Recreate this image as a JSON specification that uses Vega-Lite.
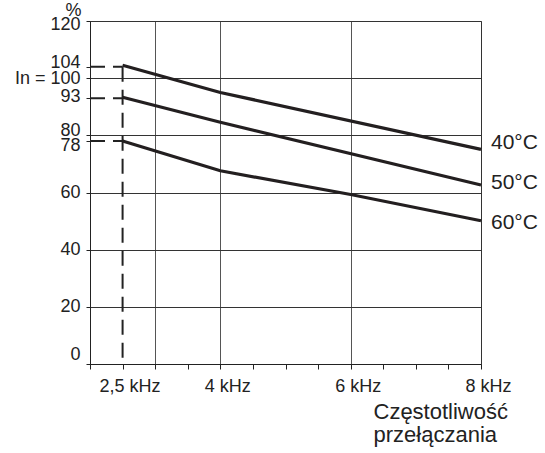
{
  "$schema": "https://vega.github.io/schema/vega-lite/v6.json",
  "width": 391,
  "height": 343,
  "autosize": {"type": "none"},
  "padding": {"left": 90, "top": 21, "right": 64, "bottom": 89},
  "background": "white",
  "view": {"stroke": "#333", "strokeWidth": 1},
  "config": {"font": "Liberation Sans"},
  "data": {
    "values": [
      {"kind": "guide", "f": 2, "v": 104, "f2": 2.5, "v2": 104},
      {"kind": "guide", "f": 2, "v": 93, "f2": 2.5, "v2": 93},
      {"kind": "guide", "f": 2, "v": 78, "f2": 2.5, "v2": 78},
      {"kind": "guide", "f": 2.5, "v": 104, "f2": 2.5, "v2": 0},
      {"kind": "line", "s": "40", "f": 2.5, "v": 104.5},
      {"kind": "line", "s": "40", "f": 4, "v": 95},
      {"kind": "line", "s": "40", "f": 8, "v": 75.1},
      {"kind": "line", "s": "50", "f": 2.5, "v": 93.3},
      {"kind": "line", "s": "50", "f": 4, "v": 84.6},
      {"kind": "line", "s": "50", "f": 8, "v": 62.6},
      {"kind": "line", "s": "60", "f": 2.5, "v": 78},
      {"kind": "line", "s": "60", "f": 4, "v": 67.6},
      {"kind": "line", "s": "60", "f": 6, "v": 59.3},
      {"kind": "line", "s": "60", "f": 8, "v": 50.1},
      {"kind": "label", "t": "40°C", "f": 8, "v": 77.4},
      {"kind": "label", "t": "50°C", "f": 8, "v": 63.3},
      {"kind": "label", "t": "60°C", "f": 8, "v": 49.3}
    ]
  },
  "encoding": {
    "x": {
      "field": "f",
      "type": "quantitative",
      "scale": {"domain": [2, 8], "nice": false, "zero": false},
      "axis": {
        "values": [2, 2.5, 3, 3.5, 4, 4.5, 5, 5.5, 6, 6.5, 7, 7.5, 8],
        "labelExpr": "datum.value==2.5 ? '2,5 kHz' : (datum.value==4 || datum.value==6 || datum.value==8) ? datum.value + ' kHz' : ''",
        "grid": true,
        "gridColor": "#555",
        "gridWidth": 1,
        "gridOpacity": {"condition": {"test": "datum.value==3 || datum.value==4 || datum.value==6", "value": 1}, "value": 0},
        "domainColor": "#222",
        "tickColor": "#222",
        "tickSize": 5,
        "labelFont": "Liberation Sans",
        "labelFontSize": 18,
        "labelColor": "#222",
        "labelPadding": 8,
        "labelOffset": 7,
        "labelOverlap": false,
        "labelFlush": false,
        "labelBound": false,
        "title": ["Częstotliwość", "przełączania"],
        "titleX": 283,
        "titleY": 37,
        "titleAlign": "left",
        "titleBaseline": "top",
        "titleFont": "Liberation Sans",
        "titleFontSize": 22,
        "titleFontWeight": "normal",
        "titleColor": "#222",
        "titleLineHeight": 23
      }
    },
    "y": {
      "field": "v",
      "type": "quantitative",
      "scale": {"domain": [0, 120], "nice": false, "zero": false},
      "axis": {
        "values": [0, 20, 40, 60, 78, 80, 93, 100, 104, 120],
        "labelExpr": "datum.value==100 ? 'In = 100' : datum.label",
        "grid": true,
        "gridColor": "#333",
        "gridWidth": 1,
        "gridOpacity": {"condition": {"test": "datum.value==78 || datum.value==93 || datum.value==104", "value": 0}, "value": 1},
        "domainColor": "#222",
        "tickColor": "#222",
        "tickSize": 4,
        "labelFont": "Liberation Sans",
        "labelFontSize": 18,
        "labelColor": "#222",
        "labelPadding": 6,
        "labelOverlap": false,
        "labelBound": false,
        "labelFlush": false,
        "labelOffset": {
          "condition": [
            {"test": "datum.value==0", "value": -10},
            {"test": "datum.value==80", "value": -5},
            {"test": "datum.value==78", "value": 4},
            {"test": "datum.value==104", "value": -4},
            {"test": "datum.value==93", "value": -2},
            {"test": "datum.value==120", "value": 3}
          ],
          "value": 0
        },
        "title": "%",
        "titleAngle": 0,
        "titleX": -17,
        "titleY": -11,
        "titleAlign": "center",
        "titleBaseline": "middle",
        "titleFont": "Liberation Sans",
        "titleFontSize": 18,
        "titleFontWeight": "normal",
        "titleColor": "#222"
      }
    }
  },
  "layer": [
    {
      "transform": [{"filter": "datum.kind == 'guide'"}],
      "mark": {"type": "rule", "color": "#222", "strokeWidth": 2, "strokeDash": [15, 8]},
      "encoding": {
        "x2": {"field": "f2"},
        "y2": {"field": "v2"}
      }
    },
    {
      "transform": [{"filter": "datum.kind == 'line'"}],
      "mark": {"type": "line", "color": "#231f20", "strokeWidth": 3.2},
      "encoding": {
        "detail": {"field": "s", "type": "nominal"}
      }
    },
    {
      "transform": [{"filter": "datum.kind == 'label'"}],
      "mark": {"type": "text", "align": "left", "baseline": "middle", "dx": 10, "fontSize": 21, "font": "Liberation Sans", "color": "#222"},
      "encoding": {
        "text": {"field": "t", "type": "nominal"}
      }
    }
  ]
}
